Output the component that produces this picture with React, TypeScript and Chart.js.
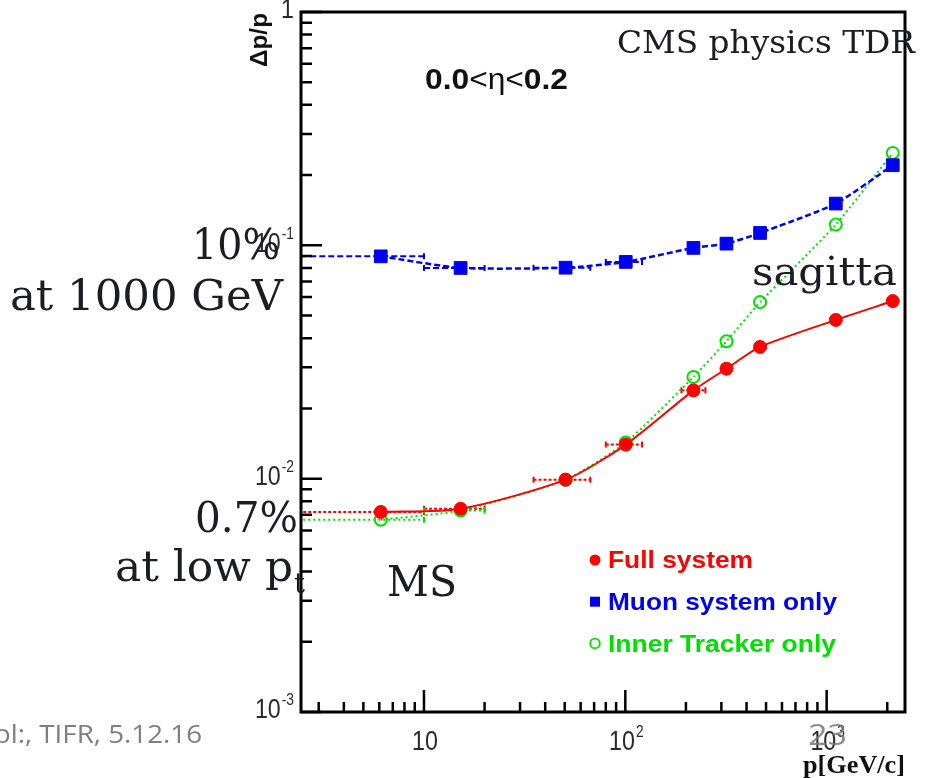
import React, { useEffect, useRef } from "react";
import { Chart, registerables } from "chart.js";

Chart.register(...registerables);

// ---------- data ----------
const momentum = [6.1, 15.2, 50.5, 100.5, 218, 318, 467, 1110, 2130];
const fullSystem = [0.0072, 0.00743, 0.0099, 0.014, 0.0239, 0.0296, 0.0367, 0.0479, 0.0577];
const muonOnly = [0.0897, 0.08, 0.0802, 0.0849, 0.0975, 0.1017, 0.113, 0.151, 0.2205];
const trackerOnly = [0.00667, 0.0073, 0.0099, 0.0143, 0.0273, 0.0388, 0.0571, 0.1227, 0.249];
const binLow = [2, 10, 35, 80, 190];
const binHigh = [10, 20, 67, 121, 250];
const fullBars = [0, 1, 2, 3, 4];
const muonBars = [0, 1, 2, 3];
const trackerBars = [0, 1];
const seriesLabels = ["Full system", "Muon system only", "Inner Tracker only"];
const xTickValues = [10, 100, 1000];
const xTickLabels = ["10", "10^2", "10^3"];
const yTickValues = [1, 0.1, 0.01, 0.001];
const yTickLabels = ["1", "10^-1", "10^-2", "10^-3"];
const xRange = [2.45, 2450];
const yRange = [0.001, 1];

const RED = "#ff0000";
const BLUE = "#0000f0";
const GREEN = "#00e000";
const INK = "#1c1c24";

function drawFit(ctx: CanvasRenderingContext2D, text: string, left: number, baseline: number, width: number, font: string, color: string) {
  ctx.save();
  ctx.font = font;
  ctx.fillStyle = color;
  ctx.textAlign = "left";
  ctx.textBaseline = "alphabetic";
  const w = ctx.measureText(text).width;
  ctx.translate(left, baseline);
  ctx.scale(width / w, 1);
  ctx.fillText(text, 0, 0);
  ctx.restore();
}

const SQ = 0.86; // horizontal squeeze of the tick label font
function drawPow(ctx: CanvasRenderingContext2D, label: string, x: number, y: number, align: "right" | "center") {
  const [base, exp] = label.split("^");
  const baseFont = '27px "Liberation Sans", Arial, sans-serif';
  const expFont = '16px "Liberation Sans", Arial, sans-serif';
  ctx.save();
  ctx.fillStyle = "#2a2a2a";
  ctx.textAlign = "left";
  ctx.textBaseline = "middle";
  ctx.font = baseFont;
  const bw = ctx.measureText(base).width * SQ;
  ctx.font = expFont;
  const ew = exp ? ctx.measureText(exp).width * SQ + 1 : 0;
  const total = bw + ew;
  const left = align === "right" ? x - total : x - total / 2;
  ctx.translate(left, y);
  ctx.scale(SQ, 1);
  ctx.font = baseFont;
  ctx.fillText(base, 0, 0);
  if (exp) {
    ctx.font = expFont;
    ctx.fillText(exp, (bw + 1) / SQ, -10);
  }
  ctx.restore();
}

const rootPlugin = {
  id: "rootStyle",
  beforeDatasetsDraw(chart: any) {
    const ctx: CanvasRenderingContext2D = chart.ctx;
    const a = chart.chartArea;
    const xs = chart.scales.x;
    const ys = chart.scales.y;
    const sets = [
      { vals: fullSystem, bars: fullBars, color: RED, dash: [3, 2] },
      { vals: muonOnly, bars: muonBars, color: BLUE, dash: [6, 3] },
      { vals: trackerOnly, bars: trackerBars, color: GREEN, dash: [2, 3] },
    ];
    ctx.save();
    ctx.beginPath();
    ctx.rect(a.left, a.top, a.right - a.left, a.bottom - a.top);
    ctx.clip();
    for (const s of sets) {
      ctx.strokeStyle = s.color;
      ctx.lineWidth = 2;
      for (const j of s.bars) {
        const x1 = xs.getPixelForValue(binLow[j]);
        const x2 = xs.getPixelForValue(binHigh[j]);
        const y = ys.getPixelForValue(s.vals[j]);
        ctx.setLineDash(s.dash);
        ctx.beginPath();
        ctx.moveTo(x1, y);
        ctx.lineTo(x2, y);
        ctx.stroke();
        ctx.setLineDash([]);
        ctx.beginPath();
        ctx.moveTo(x1, y - 3);
        ctx.lineTo(x1, y + 3);
        ctx.moveTo(x2, y - 3);
        ctx.lineTo(x2, y + 3);
        ctx.stroke();
      }
    }
    ctx.restore();
  },
  afterDraw(chart: any) {
    const ctx: CanvasRenderingContext2D = chart.ctx;
    const a = chart.chartArea;
    const xs = chart.scales.x;
    const ys = chart.scales.y;
    ctx.save();
    // frame
    ctx.strokeStyle = "#000";
    ctx.lineWidth = 3;
    ctx.strokeRect(a.left, a.top, a.right - a.left, a.bottom - a.top);
    // y ticks
    ctx.lineWidth = 2.5;
    ctx.beginPath();
    for (let e = -3; e <= 0; e++) {
      for (let k = 1; k <= 9; k++) {
        const v = k * Math.pow(10, e);
        if (v < yRange[0] || v > yRange[1]) continue;
        const y = ys.getPixelForValue(v);
        const len = k === 1 ? 21 : 11;
        ctx.moveTo(a.left, y);
        ctx.lineTo(a.left + len, y);
      }
    }
    // x ticks
    for (let e = 0; e <= 3; e++) {
      for (let k = 1; k <= 9; k++) {
        const v = k * Math.pow(10, e);
        if (v < xRange[0] || v > xRange[1]) continue;
        const x = xs.getPixelForValue(v);
        const len = k === 1 ? 22 : 10;
        ctx.moveTo(x, a.bottom);
        ctx.lineTo(x, a.bottom - len);
      }
    }
    ctx.stroke();
    ctx.restore();

    // tick labels
    yTickValues.forEach((v, i) => {
      drawPow(ctx, yTickLabels[i], 294, ys.getPixelForValue(v) - 1, "right");
    });
    xTickValues.forEach((v, i) => {
      drawPow(ctx, xTickLabels[i], xs.getPixelForValue(v) + 1, a.bottom + 31, "center");
    });

    // axis titles
    ctx.save();
    ctx.translate(267, 40);
    ctx.rotate(-Math.PI / 2);
    ctx.font = 'bold 24px "Liberation Sans", Arial, sans-serif';
    const tw = ctx.measureText("Δp/p").width;
    ctx.scale(54 / tw, 1);
    ctx.fillStyle = "#111";
    ctx.textAlign = "center";
    ctx.fillText("Δp/p", 0, 0);
    ctx.restore();
    drawFit(ctx, "p[GeV/c]", 803, 773, 102, 'bold 25px "Liberation Serif", "Times New Roman", serif', "#111");

    // eta range (mixed weights)
    ctx.save();
    const segs: [string, string][] = [
      ["0.0", 'bold 30px "Liberation Sans", Arial, sans-serif'],
      ["<η<", '30px "Liberation Sans", Arial, sans-serif'],
      ["0.2", 'bold 30px "Liberation Sans", Arial, sans-serif'],
    ];
    let tot = 0;
    for (const [t, f] of segs) { ctx.font = f; tot += ctx.measureText(t).width; }
    ctx.translate(425, 89);
    ctx.scale(143 / tot, 1);
    ctx.fillStyle = "#111";
    let cx = 0;
    for (const [t, f] of segs) { ctx.font = f; ctx.fillText(t, cx, 0); cx += ctx.measureText(t).width; }
    ctx.restore();

    // annotations (serif)
    const serif = (s: number) => `${s}px "DejaVu Serif", serif`;
    drawFit(ctx, "CMS physics TDR", 617, 53, 298, serif(31), INK);
    drawFit(ctx, "sagitta", 752, 285, 145, serif(40), INK);
    drawFit(ctx, "10%", 192, 259, 88, serif(42), INK);
    drawFit(ctx, "at 1000 GeV", 10, 310, 273, serif(42), INK);
    drawFit(ctx, "0.7%", 195, 532, 103, serif(42), INK);
    drawFit(ctx, "at low p", 115, 581, 178, serif(42), INK);
    drawFit(ctx, "t", 294, 593, 11, serif(27), INK);
    drawFit(ctx, "MS", 387, 596, 70, serif(43), INK);

    // legend
    const ds = chart.data.datasets;
    ds.forEach((d: any, i: number) => {
      const my = 560 + i * 41.7;
      ctx.save();
      if (d.pointStyle === "rect") {
        ctx.fillStyle = d.pointBackgroundColor;
        ctx.fillRect(590, my - 5, 10, 10);
      } else if (d.pointBackgroundColor === "transparent") {
        ctx.strokeStyle = d.pointBorderColor;
        ctx.lineWidth = 1.8;
        ctx.beginPath();
        ctx.arc(595, my, 4.8, 0, Math.PI * 2);
        ctx.stroke();
      } else {
        ctx.fillStyle = d.pointBackgroundColor;
        ctx.beginPath();
        ctx.arc(595, my, 5.5, 0, Math.PI * 2);
        ctx.fill();
      }
      ctx.restore();
      const widths = [145, 229, 228];
      drawFit(ctx, d.label, 608, 568.3 + i * 41.7, widths[i], 'bold 24px "Liberation Sans", Arial, sans-serif', d.borderColor);
    });

    // slide footer & page number
    drawFit(ctx, "ol:, TIFR, 5.12.16", -6, 743, 208, '25px "Open Sans", sans-serif', "#7f7f7f");
    drawFit(ctx, "23", 808, 745, 39, '30px "Open Sans", sans-serif', "rgba(120,120,120,0.85)");
  },
};

export default function App() {
  const ref = useRef<HTMLCanvasElement | null>(null);
  useEffect(() => {
    if (!ref.current) return;
    const mk = (vals: number[]) => momentum.map((x, i) => ({ x, y: vals[i] }));
    const chart = new Chart(ref.current, {
      type: "line",
      data: {
        datasets: [
          {
            label: seriesLabels[0],
            data: mk(fullSystem),
            borderColor: RED,
            backgroundColor: RED,
            borderWidth: 2,
            tension: 0.25,
            pointStyle: "circle",
            pointRadius: 6.5,
            pointBackgroundColor: RED,
            pointBorderColor: RED,
            pointBorderWidth: 1,
          },
          {
            label: seriesLabels[1],
            data: mk(muonOnly),
            borderColor: BLUE,
            backgroundColor: BLUE,
            borderWidth: 2.5,
            borderDash: [6, 3],
            tension: 0.2,
            pointStyle: "rect",
            pointRadius: 9,
            pointBackgroundColor: BLUE,
            pointBorderColor: BLUE,
            pointBorderWidth: 1,
          },
          {
            label: seriesLabels[2],
            data: mk(trackerOnly),
            borderColor: GREEN,
            backgroundColor: GREEN,
            borderWidth: 2,
            borderDash: [2, 3],
            tension: 0.2,
            pointStyle: "circle",
            pointRadius: 6,
            pointBackgroundColor: "transparent",
            pointBorderColor: GREEN,
            pointBorderWidth: 2,
          },
        ],
      },
      options: {
        animation: false,
        responsive: false,
        maintainAspectRatio: false,
        layout: { autoPadding: false, padding: { left: 0, top: 12, right: 27, bottom: 0 } },
        plugins: { legend: { display: false }, tooltip: { enabled: false }, title: { display: false } },
        scales: {
          x: {
            type: "logarithmic",
            min: xRange[0],
            max: xRange[1],
            bounds: "data",
            ticks: { display: false },
            grid: { display: false },
            border: { display: false },
            afterFit: (s: any) => { s.height = 66; },
          },
          y: {
            type: "logarithmic",
            min: yRange[0],
            max: yRange[1],
            bounds: "data",
            ticks: { display: false },
            grid: { display: false },
            border: { display: false },
            afterFit: (s: any) => { s.width = 301; },
          },
        },
      } as any,
      plugins: [rootPlugin],
    });
    return () => chart.destroy();
  }, []);
  return (
    <div style={{ position: "fixed", left: 0, top: 0, width: 932, height: 778, background: "#fff" }}>
      <canvas ref={ref} width={932} height={778} style={{ width: 932, height: 778, display: "block" }} />
    </div>
  );
}
